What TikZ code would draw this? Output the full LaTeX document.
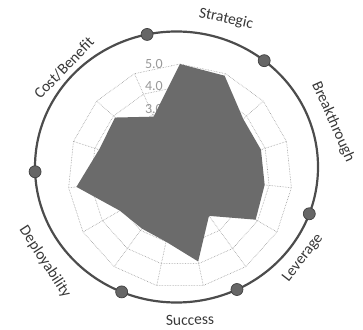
\documentclass[tikz,border=0pt]{standalone}
\usepackage{fontspec}
\setmainfont{Carlito}
\begin{document}
\begin{tikzpicture}[x=1pt,y=1pt,
	catlabel/.style={font=\fontsize{15.5}{18}\selectfont, text=black!78},
	numlabel/.style={font=\fontsize{14}{16}\selectfont, text=black!40, anchor=east, inner sep=0pt},
	gridline/.style={black!40, densely dotted, line width=0.6pt},
	datafill/.style={fill=black!58},
	outerring/.style={draw=black!70, line width=2.2pt},
	catdot/.style={circle, draw=black!75, fill=black!60, line width=0.7pt, minimum size=12pt, inner sep=0pt}]
	\useasboundingbox (0,0) rectangle (363,329);
	% web: spokes, rings and value labels
	\begin{scope}[shift={(180,153)}]
		\coordinate (c) at (0,0);
		\foreach \k in {0,...,14}
			\draw[gridline] (c) -- (90-24*\k:112);
		\foreach \r in {1,...,5}
			\draw[gridline] (90:{22.4*\r}) \foreach \k in {1,...,14} { -- (90-24*\k:{22.4*\r}) } -- cycle;
		\foreach \v in {1,...,5}
			\node[numlabel] (n\v) at (-17,{22.4*\v}) {\v.0};
		% scores
		\fill[datafill] (90:112) \foreach \a/\v in {66/4.9, 42/3.8, 18/3.8, -6/3.8, -30/3.9, -54/2.2, -78/3.9,
			-102/3.0, -126/2.9, -150/3.1, -174/4.65, 162/3.8, 138/3.9, 114/2.9} { -- (\a:{22.4*\v}) } -- cycle;
	\end{scope}
	% outer ring with category marks
	\begin{scope}[shift={(176.5,162)}]
		\draw[outerring] (0,0) ellipse [x radius=141.5, y radius=135.5];
		\node[catdot] (d1) at (102:141.5 and 135.5) {};
		\node[catdot] (d2) at (51.7:141.5 and 135.5) {};
		\node[catdot] (d3) at (-20.2:141.5 and 135.5) {};
		\node[catdot] (d4) at (-64.7:141.5 and 135.5) {};
		\node[catdot] (d5) at (-112.8:141.5 and 135.5) {};
		\node[catdot] (d6) at (182:141.5 and 135.5) {};
	\end{scope}
	% category names
	\node[catlabel, rotate=-12] (strategic) at (226,310) {Strategic};
	\node[catlabel, rotate=-66] (breakthrough) at (333,207) {Breakthrough};
	\node[catlabel, rotate=52] (leverage) at (303,71) {Leverage};
	\node[catlabel, rotate=2] (success) at (190,9) {Success};
	\node[catlabel, rotate=-57] (deployability) at (45,67) {Deployability};
	\node[catlabel, rotate=46] (costbenefit) at (64,261) {Cost/Benefit};
\end{tikzpicture}
\end{document}
